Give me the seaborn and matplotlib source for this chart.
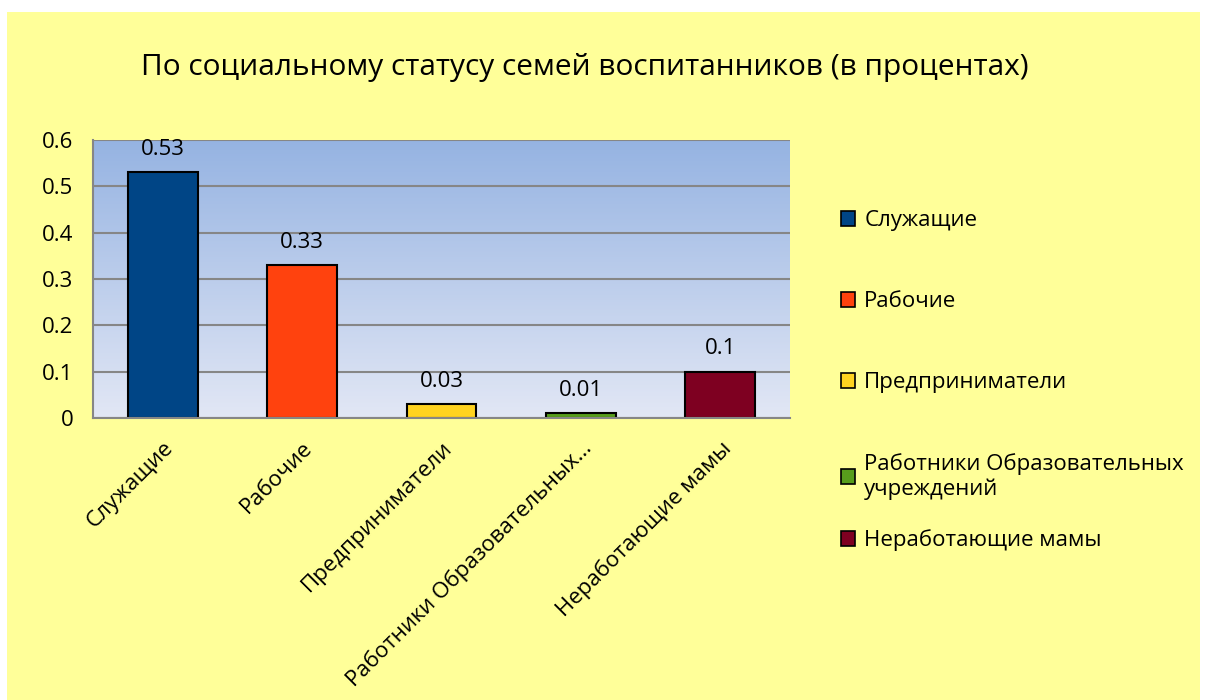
import numpy as np
import pandas as pd
import seaborn as sns
import matplotlib.pyplot as plt
from matplotlib.patches import Patch, Rectangle
from matplotlib.colors import LinearSegmentedColormap

# Data
categories = ["Служащие", "Рабочие", "Предприниматели",
              "Работники Образовательных учреждений", "Неработающие мамы"]
values = [0.53, 0.33, 0.03, 0.01, 0.1]
tick_labels = ["Служащие", "Рабочие", "Предприниматели",
               "Работники Образовательных…", "Неработающие мамы"]
legend_labels = ["Служащие", "Рабочие", "Предприниматели",
                 "Работники Образовательных\nучреждений", "Неработающие мамы"]
colors = ["#004586", "#FF420E", "#FFD320", "#579D1C", "#7E0021"]

sns.set_style("white")
plt.rcParams['font.family'] = ['Open Sans', 'DejaVu Sans']
plt.rcParams['text.color'] = 'black'
plt.rcParams['xtick.color'] = 'black'
plt.rcParams['ytick.color'] = 'black'

fig = plt.figure(figsize=(12.06, 7), dpi=100, facecolor="white")
# yellow chart area
fig.patches.append(Rectangle((7 / 1206, 0), 1193 / 1206, 688 / 700,
                             transform=fig.transFigure, facecolor="#FFFF99",
                             edgecolor="none", zorder=-1))

ax = fig.add_axes([93 / 1206, 1 - 418 / 700, 697 / 1206, 278 / 700])
ax.patch.set_alpha(0)

df = pd.DataFrame({"cat": categories, "val": values})
sns.barplot(data=df, x="cat", y="val", hue="cat", palette=colors, saturation=1,
            width=0.5, edgecolor="black", linewidth=1.5, legend=False, ax=ax)

ax.set_xlim(-0.5, 4.5)
ax.set_ylim(0, 0.6)

# gradient background
grad = LinearSegmentedColormap.from_list("bg", ["#E2E7F5", "#95B3E2"])
ax.imshow(np.linspace(0, 1, 256).reshape(-1, 1), cmap=grad, origin="lower",
          extent=(-0.5, 4.5, 0, 0.6), aspect="auto", zorder=0)

ax.set_axisbelow(True)
ax.yaxis.grid(True, color="#868686", linewidth=1.5)

for side in ["top", "right"]:
    ax.spines[side].set_visible(False)
for side in ["left", "bottom"]:
    ax.spines[side].set_color("#868686")
    ax.spines[side].set_linewidth(1.5)

ax.set_yticks([0, 0.1, 0.2, 0.3, 0.4, 0.5, 0.6])
ax.set_yticklabels(["0", "0.1", "0.2", "0.3", "0.4", "0.5", "0.6"])
ax.tick_params(axis="y", direction="out", length=6, width=1.5, color="#868686",
               labelsize=16, pad=8)

ax.set_xticks(range(len(categories)))
ax.set_xticklabels(tick_labels, rotation=45, ha="right", rotation_mode="anchor",
                   fontsize=16)
ax.tick_params(axis="x", length=0, pad=14)
ax.set_xticks(np.arange(-0.5, 5, 1), minor=True)
ax.tick_params(axis="x", which="minor", direction="out", length=6, width=1.5,
               color="#868686")

ax.set_xlabel("")
ax.set_ylabel("")

for cont in ax.containers:
    ax.bar_label(cont, fmt="%g", padding=9, fontsize=16)

fig.text(585 / 1206, 1 - 68 / 700, "По социальному статусу семей воспитанников (в процентах)",
         ha="center", va="center", fontsize=21.5)

# legend: first four entries, then the last one placed a bit closer (as in Excel)
handles = [Patch(facecolor=c, edgecolor="black", linewidth=1.2) for c in colors]
leg_kw = dict(frameon=False, fontsize=16, labelspacing=2.7, handlelength=0.65,
              handleheight=0.65, handletextpad=0.4)
leg1 = fig.legend(handles[:4], legend_labels[:4], loc="upper left",
                  bbox_to_anchor=(821 / 1206, 1 - 190 / 700), **leg_kw)
fig.legend(handles[4:], legend_labels[4:], loc="center left",
           bbox_to_anchor=(821 / 1206, 1 - 540 / 700), **leg_kw)

fig.savefig("out.png", dpi=100)
